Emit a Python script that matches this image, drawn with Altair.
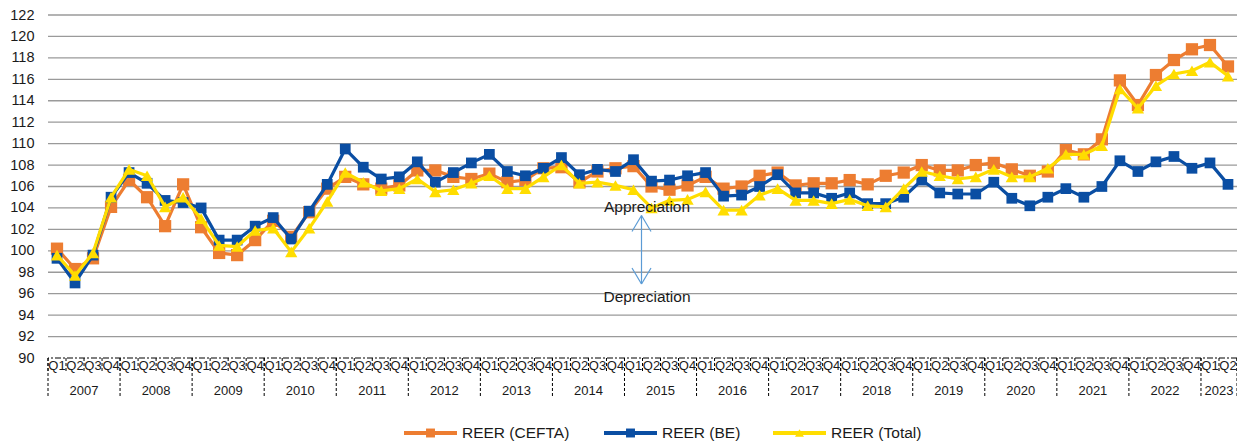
import altair as alt
import pandas as pd

years = list(range(2007, 2024))
quarter_names = ["Q1", "Q2", "Q3", "Q4"]

cefta = [100.2, 98.3, 99.3, 104.1, 106.6, 105.0, 102.3, 106.2, 102.2, 99.8, 99.6, 101.0, 102.8, 101.3, 103.6,
         105.8, 106.9, 106.2, 105.8, 106.1, 107.5, 107.5, 106.9, 106.7, 107.2, 106.4, 106.6, 107.7, 107.8, 106.4, 107.4, 107.7,
         107.9, 106.0, 105.7, 106.1, 106.9, 105.8, 106.0, 107.0, 107.3, 106.1, 106.3, 106.3, 106.6, 106.2, 107.0, 107.3,
         108.0, 107.5, 107.5, 108.0, 108.2, 107.6, 107.0, 107.4, 109.4, 109.0, 110.4, 115.9, 113.6, 116.4, 117.8, 118.8, 119.2, 117.2]
be = [99.3, 97.0, 99.6, 105.0, 107.3, 106.3, 104.7, 104.5, 104.0, 101.0, 101.0, 102.3, 103.1, 101.1, 103.7,
      106.2, 109.5, 107.8, 106.7, 106.9, 108.3, 106.4, 107.3, 108.2, 109.0, 107.4, 107.0, 107.7, 108.7, 107.1, 107.6, 107.4,
      108.5, 106.5, 106.6, 107.0, 107.3, 105.1, 105.2, 106.0, 107.1, 105.4, 105.4, 104.9, 105.4, 104.4, 104.4, 105.0,
      106.6, 105.4, 105.3, 105.3, 106.4, 104.9, 104.2, 105.0, 105.8, 105.0, 106.0, 108.4, 107.4, 108.3, 108.8, 107.7, 108.2, 106.2]
total = [99.6, 97.7, 99.8, 105.0, 107.6, 107.0, 104.1, 105.0, 103.0, 100.5, 100.4, 101.9, 102.1, 99.9, 102.1,
         104.6, 107.3, 106.4, 105.6, 105.8, 106.7, 105.5, 105.7, 106.3, 107.0, 105.8, 105.8, 106.9, 108.0, 106.3, 106.4, 106.1,
         105.7, 104.0, 104.7, 104.8, 105.5, 103.8, 103.8, 105.2, 105.8, 104.7, 104.7, 104.4, 104.8, 104.2, 104.1, 105.8,
         107.4, 107.0, 106.7, 106.9, 107.6, 106.9, 106.9, 107.7, 109.0, 109.0, 109.8, 115.1, 113.3, 115.4, 116.5, 116.8, 117.6, 116.3]

series_names = ["REER (CEFTA)", "REER (BE)", "REER (Total)"]
series_keys = ["cefta", "be", "total"]
series_colors = ["#ED7D31", "#0A4EA3", "#FFDD00"]
series_shapes = ["square", "square", "triangle-up"]

n = len(cefta)
q_labels = [quarter_names[i % 4] for i in range(n)]
q_years = [years[i // 4] for i in range(n)]

W, H = 1189, 343
step = W / n

def px_to_idx(px):
    return (px - step / 2) / step

xscale = alt.Scale(domain=[-0.5, n - 0.5], nice=False, zero=False)
yscale = alt.Scale(domain=[90, 122], nice=False, zero=False)
tick_vals = list(range(90, 123, 2))
yaxis = alt.Axis(values=tick_vals, tickCount=17, grid=False, domain=False, ticks=False, labelPadding=14,
                 labelOverlap=False, labelFontSize=14.5, labelFont="Liberation Sans",
                 labelColor="#1a1a1a", title=None)

def Y(field):
    return alt.Y(field, scale=yscale, axis=yaxis)

df = pd.DataFrame({"idx": list(range(n)), "q": q_labels, "year": q_years,
                   "cefta": cefta, "be": be, "total": total})

grid_df = pd.DataFrame({"v": tick_vals[1:]})
grid = alt.Chart(grid_df).mark_rule(color="#9a9a9a", strokeWidth=1.3).encode(y=Y("v:Q"))

base_rule = alt.Chart(pd.DataFrame({"v": [90]})).mark_rule(color="#000", strokeWidth=1.2, strokeDash=[6, 2, 2, 2]).encode(
    y=Y("v:Q"))

sep_q = pd.DataFrame({"sx": [i - 0.5 for i in range(n)] + [n - 0.5]})
sep_y = pd.DataFrame({"sx": [i - 0.5 for i in range(0, n, 4)] + [n - 0.5]})
qsep = alt.Chart(sep_q).mark_rule(color="#000", strokeWidth=1, strokeDash=[3, 2]).encode(
    x=alt.X("sx:Q", scale=xscale, axis=None), y=alt.value(H), y2=alt.value(H + 15))
ysep = alt.Chart(sep_y).mark_rule(color="#000", strokeWidth=1, strokeDash=[3, 2]).encode(
    x=alt.X("sx:Q", scale=xscale, axis=None), y=alt.value(H), y2=alt.value(H + 40))

qtext = alt.Chart(df).mark_text(fontSize=13, font="Liberation Sans", color="#1a1a1a", baseline="middle").encode(
    x=alt.X("idx:Q", scale=xscale, axis=None), y=alt.value(H + 8), text="q:N")

ydf = df.groupby("year", as_index=False)["idx"].mean()
ydf["ylab"] = ydf["year"].astype(str)
ytext = alt.Chart(ydf).mark_text(fontSize=13, font="Liberation Sans", color="#1a1a1a", baseline="middle").encode(
    x=alt.X("idx:Q", scale=xscale, axis=None), y=alt.value(H + 33), text="ylab:N")

layers = [grid, qsep, ysep, base_rule]
sizes = [150, 115, 150]
for key, col, shp, sz in zip(series_keys, series_colors, series_shapes, sizes):
    line = alt.Chart(df).mark_line(color=col, strokeWidth=3.2).encode(
        x=alt.X("idx:Q", scale=xscale, axis=None), y=Y(f"{key}:Q"))
    pts = alt.Chart(df).mark_point(shape=shp, size=sz, filled=True, color=col, opacity=1).encode(
        x=alt.X("idx:Q", scale=xscale, axis=None), y=Y(f"{key}:Q"))
    layers += [line, pts]

ann_text = pd.DataFrame({"t": ["Appreciation", "Depreciation"], "x": [px_to_idx(647 - 48)] * 2, "y": [104.1, 95.7]})
ann = alt.Chart(ann_text).mark_text(fontSize=15.5, font="Liberation Sans", color="#1a1a1a", baseline="middle").encode(
    x=alt.X("x:Q", scale=xscale, axis=None), y=Y("y:Q"), text="t:N")

arrow_x = px_to_idx(641.5 - 48)
dx = 9.5 / step
dy = 16 / (H / 32)
arr_df = pd.DataFrame({
    "x1": [arrow_x, arrow_x - dx, arrow_x + dx, arrow_x - dx, arrow_x + dx],
    "x2": [arrow_x, arrow_x, arrow_x, arrow_x, arrow_x],
    "y1": [103.3, 103.3 - dy, 103.3 - dy, 96.9 + dy, 96.9 + dy],
    "y2": [96.9, 103.3, 103.3, 96.9, 96.9],
})
arrow = alt.Chart(arr_df).mark_rule(color="#5B9BD5", strokeWidth=1.2).encode(
    x=alt.X("x1:Q", scale=xscale, axis=None), x2="x2:Q", y=Y("y1:Q"), y2="y2:Q")

leg_px = [404, 604, 773]
leg_df = pd.DataFrame({
    "name": series_names, "color": series_colors,
    "x1": [px_to_idx(p - 48) for p in leg_px],
    "x2": [px_to_idx(p - 48 + 53) for p in leg_px],
    "xm": [px_to_idx(p - 48 + 26.5) for p in leg_px],
    "xt": [px_to_idx(p - 48 + 58) for p in leg_px],
})
LY = 418
leg_layers = []
for i, (col, shp) in enumerate(zip(series_colors, series_shapes)):
    sub = leg_df.iloc[[i]]
    leg_layers.append(alt.Chart(sub).mark_rule(strokeWidth=4, color=col).encode(
        x=alt.X("x1:Q", scale=xscale, axis=None), x2="x2:Q", y=alt.value(LY)))
    leg_layers.append(alt.Chart(sub).mark_point(filled=True, size=80, opacity=1, color=col, shape=shp).encode(
        x=alt.X("xm:Q", scale=xscale, axis=None), y=alt.value(LY)))
leg_txt = alt.Chart(leg_df).mark_text(fontSize=15.5, font="Liberation Sans", color="#1a1a1a", align="left", baseline="middle").encode(
    x=alt.X("xt:Q", scale=xscale, axis=None), y=alt.value(LY), text="name:N")

layers += [ann, arrow, qtext, ytext] + leg_layers + [leg_txt]

chart = alt.layer(*layers).properties(
    width=W, height=H,
    autosize=alt.AutoSizeParams(type="none"),
    padding={"left": 40, "top": 7, "right": 0, "bottom": 86},
    background="white",
).configure_view(strokeWidth=0)

chart.save("out.html", embed_options={"renderer": "svg", "actions": False})
